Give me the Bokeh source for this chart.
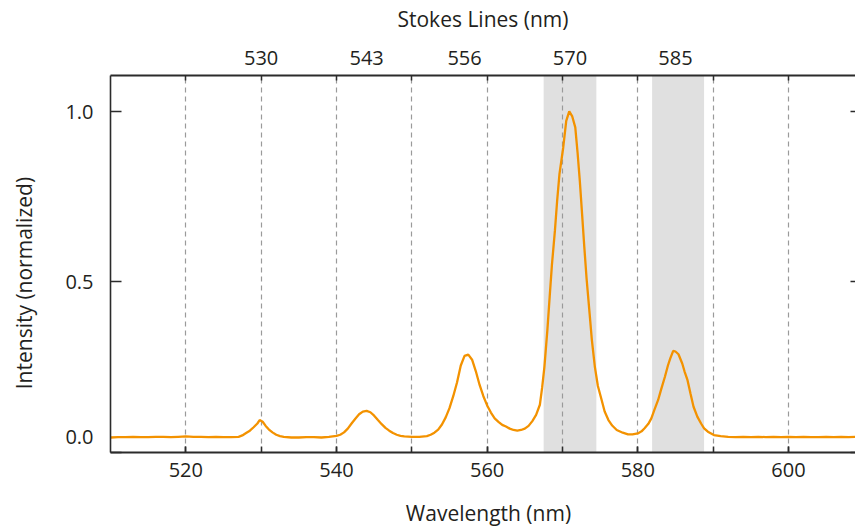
from bokeh.plotting import figure
from bokeh.models import (LinearAxis, FixedTicker, Range1d, BoxAnnotation,
                          PrintfTickFormatter)
from bokeh.embed import file_html
from bokeh.resources import INLINE

# ---- data ----
wavelength = [510, 511, 512, 513, 514, 515, 516, 517, 518, 519, 520, 521, 522, 523, 524,
              525, 526, 527, 527.5, 528, 528.5, 529, 529.5, 529.8, 530.2, 530.6, 531,
              531.5, 532, 532.5, 533, 534, 535, 536, 537, 538, 539, 540, 540.5, 541,
              541.5, 542, 542.5, 543, 543.5, 544, 544.5, 545, 545.5, 546, 546.5, 547,
              547.5, 548, 548.5, 549, 550, 551, 552, 552.5, 553, 553.5, 554, 554.5, 555,
              555.5, 556, 556.5, 557, 557.5, 558, 558.5, 559, 559.5, 560, 560.5, 561,
              561.5, 562, 562.5, 563, 563.5, 564, 564.5, 565, 565.5, 566, 566.5, 567,
              567.3, 567.6, 568, 568.3, 568.6, 569, 569.3, 569.6, 570.1, 570.5, 570.9,
              571.3, 571.7, 572, 572.3, 572.6, 572.9, 573.2, 573.6, 573.9, 574.3, 574.7,
              575.2, 575.6, 576.1, 576.6, 577.2, 578, 578.7, 579.3, 580, 580.5, 580.9,
              581.4, 581.8, 582.2, 582.7, 583.1, 583.6, 584, 584.3, 584.7, 585, 585.4,
              585.9, 586.2, 586.6, 587, 587.4, 587.9, 588.4, 588.8, 589.3, 590.1, 591,
              592, 593, 594, 595, 596, 597, 598, 599, 600, 601, 602, 603, 604, 605, 606,
              607, 608, 609]
intensity = [0.044, 0.045, 0.045, 0.046, 0.045, 0.045, 0.046, 0.046, 0.045, 0.046, 0.047,
             0.046, 0.046, 0.045, 0.046, 0.045, 0.045, 0.046, 0.050, 0.057, 0.064, 0.074,
             0.085, 0.095, 0.090, 0.078, 0.068, 0.059, 0.052, 0.048, 0.046, 0.044, 0.044,
             0.045, 0.045, 0.044, 0.046, 0.049, 0.052, 0.059, 0.070, 0.085, 0.099, 0.112,
             0.120, 0.122, 0.118, 0.108, 0.095, 0.083, 0.072, 0.064, 0.057, 0.052, 0.049,
             0.047, 0.046, 0.046, 0.048, 0.052, 0.058, 0.067, 0.082, 0.103, 0.130, 0.165,
             0.205, 0.255, 0.283, 0.287, 0.272, 0.238, 0.198, 0.165, 0.138, 0.117, 0.100,
             0.090, 0.081, 0.076, 0.070, 0.066, 0.064, 0.066, 0.070, 0.078, 0.092, 0.110,
             0.140, 0.190, 0.250, 0.360, 0.456, 0.550, 0.651, 0.740, 0.816, 0.894, 0.972,
             1.000, 0.985, 0.953, 0.880, 0.797, 0.700, 0.602, 0.510, 0.408, 0.330, 0.251,
             0.195, 0.154, 0.120, 0.095, 0.079, 0.066, 0.058, 0.053, 0.053, 0.056, 0.062,
             0.071, 0.084, 0.100, 0.125, 0.154, 0.185, 0.222, 0.255, 0.275, 0.298, 0.296,
             0.288, 0.261, 0.238, 0.212, 0.172, 0.134, 0.105, 0.085, 0.071, 0.061, 0.051,
             0.048, 0.046, 0.045, 0.046, 0.045, 0.046, 0.045, 0.046, 0.045, 0.046, 0.045,
             0.046, 0.045, 0.045, 0.046, 0.045, 0.046, 0.045, 0.046]

grid_ticks = [520, 530, 540, 550, 560, 570, 580, 590, 600]
bottom_ticks = [520, 540, 560, 580, 600]
stokes_pos = [530, 544, 557, 571, 585]
stokes_labels = ["530", "543", "556", "570", "585"]
y_ticks = [0.0, 0.5, 1.0]
y_labels = ["0.0\n\u00a0", "0.5", "1.0"]
band_left = [567.5, 581.9]
band_right = [574.5, 588.8]

FONT = "Open Sans"
TXT = "#231f20"
AX = "#2b2b2b"
FS = "20px"
FST = "21px"
NB = "\u00a0"

p = figure(width=855, height=529, output_backend="svg", toolbar_location=None,
           x_range=Range1d(510, 608.9), y_range=Range1d(0.0, 1.105),
           min_border_left=110, min_border_right=0, min_border_top=75,
           min_border_bottom=76)
p.outline_line_color = None
p.background_fill_color = "white"
p.border_fill_color = "white"

# shaded bands
for l, r in zip(band_left, band_right):
    p.add_layout(BoxAnnotation(left=l, right=r, fill_color="#e0e0e0", fill_alpha=1.0,
                               line_color=None, level="image"))

# grid
p.ygrid.visible = False
p.xgrid.ticker = FixedTicker(ticks=grid_ticks)
p.xgrid.grid_line_color = "#9a9a9a"
p.xgrid.grid_line_dash = "5 4"
p.xgrid.grid_line_width = 1.2

p.line(wavelength, intensity, line_color="#f39200", line_width=2.3)

def style(ax):
    ax.axis_line_color = AX
    ax.axis_line_width = 2
    ax.major_tick_line_color = AX
    ax.minor_tick_line_color = AX
    ax.major_tick_line_width = 1.5
    ax.minor_tick_line_width = 1.5
    ax.major_label_text_font = FONT
    ax.major_label_text_color = TXT
    ax.major_label_text_font_size = FS
    ax.axis_label_text_font = FONT
    ax.axis_label_text_color = TXT
    ax.axis_label_text_font_size = FST
    ax.axis_label_text_font_style = "normal"

# bottom axis
xb = p.xaxis[0]
xb.ticker = FixedTicker(ticks=bottom_ticks, minor_ticks=grid_ticks)
xb.axis_label = NB * 2 + "Wavelength (nm)"
style(xb)
xb.major_tick_in = 6
xb.major_tick_out = 0
xb.minor_tick_in = 6
xb.minor_tick_out = 0
xb.major_label_standoff = 10
xb.axis_label_standoff = 19

# left axis
yl = p.yaxis[0]
yl.ticker = FixedTicker(ticks=y_ticks, minor_ticks=[])
yl.major_label_overrides = {v: s for v, s in zip(y_ticks, y_labels)}
yl.axis_label = "Intensity (normalized)" + NB * 7
style(yl)
yl.axis_line_width = 1.6
yl.major_tick_in = 11
yl.major_tick_out = 0
yl.major_label_standoff = 17
yl.axis_label_standoff = 24

# top axis
xt = LinearAxis(ticker=FixedTicker(ticks=stokes_pos, minor_ticks=grid_ticks),
                major_label_overrides={v: s for v, s in zip(stokes_pos, stokes_labels)},
                axis_label="Stokes Lines (nm)")
style(xt)
xt.major_tick_in = 0
xt.major_tick_out = 0
xt.minor_tick_in = 5
xt.minor_tick_out = 0
xt.major_label_standoff = 11
xt.axis_label_standoff = 15
p.add_layout(xt, "above")

# right axis (tick stubs only)
yr = LinearAxis(ticker=FixedTicker(ticks=y_ticks, minor_ticks=[]),
                major_label_overrides={v: "" for v in y_ticks})
style(yr)
yr.axis_line_color = None
yr.major_tick_in = 5
yr.major_tick_out = 0
yr.major_label_standoff = 0
yr.major_label_text_font_size = "1px"
p.add_layout(yr, "right")

open("out.html", "w").write(file_html(p, INLINE))
